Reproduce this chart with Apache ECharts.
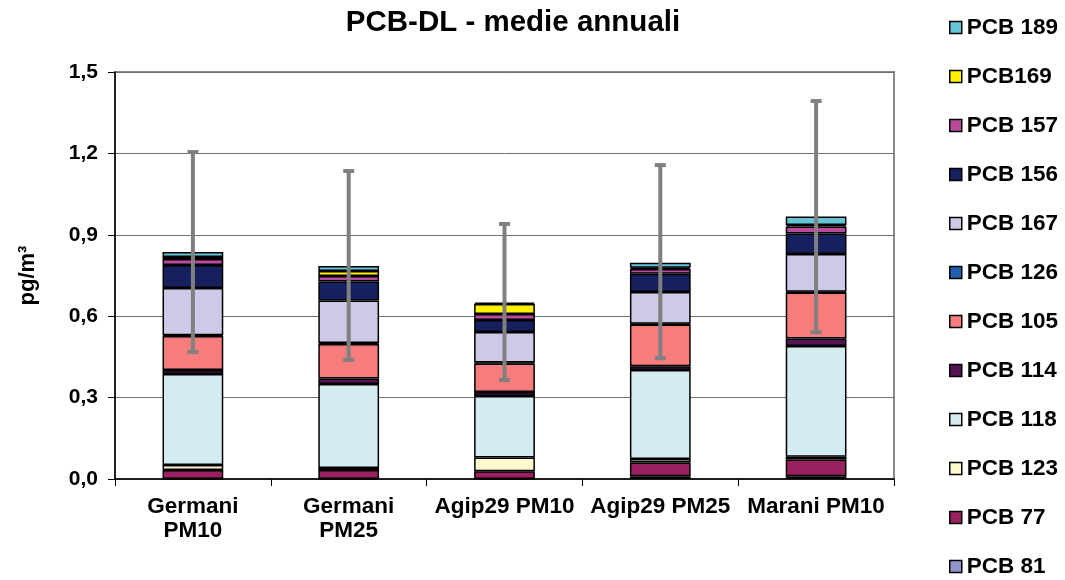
<!DOCTYPE html>
<html>
<head>
<meta charset="utf-8">
<script src="https://cdn.jsdelivr.net/npm/echarts@6/dist/echarts.min.js"></script>
<style>
html,body{margin:0;padding:0;background:#fff;}
#c{width:1065px;height:580px;}
</style>
</head>
<body>
<div id="c"></div>
<script>
// ---- data ----
const categories = ['Germani\nPM10', 'Germani\nPM25', 'Agip29 PM10', 'Agip29 PM25', 'Marani PM10'];
// stacking order bottom -> top
const seriesNames = ['PCB 81', 'PCB 77', 'PCB 123', 'PCB 118', 'PCB 114', 'PCB 105', 'PCB 126', 'PCB 167', 'PCB 156', 'PCB 157', 'PCB169', 'PCB 189'];
const pcb81  = [0.000, 0.000, 0.000, 0.010, 0.010];
const pcb77  = [0.033, 0.033, 0.029, 0.051, 0.062];
const pcb123 = [0.019, 0.008, 0.050, 0.013, 0.010];
const pcb118 = [0.335, 0.309, 0.227, 0.328, 0.408];
const pcb114 = [0.015, 0.020, 0.015, 0.014, 0.028];
const pcb105 = [0.125, 0.128, 0.105, 0.153, 0.169];
const pcb126 = [0.003, 0.003, 0.003, 0.003, 0.003];
const pcb167 = [0.174, 0.157, 0.113, 0.117, 0.139];
const pcb156 = [0.085, 0.070, 0.044, 0.067, 0.076];
const pcb157 = [0.022, 0.020, 0.022, 0.018, 0.026];
const pcb169 = [0.007, 0.019, 0.037, 0.005, 0.005];
const pcb189 = [0.019, 0.018, 0.005, 0.018, 0.031];
const errLow  = [0.468, 0.439, 0.365, 0.445, 0.541];
const errHigh = [1.205, 1.135, 0.940, 1.157, 1.393];
const yTicks = [0, 0.3, 0.6, 0.9, 1.2, 1.5];

const seriesValues = [pcb81, pcb77, pcb123, pcb118, pcb114, pcb105, pcb126, pcb167, pcb156, pcb157, pcb169, pcb189];
const colors = ['#9494CC', '#99215F', '#FFFACD', '#D4EBF2', '#541455', '#F77C7C', '#1F5FAE', '#CCCAE6', '#16205E', '#BB4A9E', '#FFF200', '#66C6D8'];

const FONT = 'Liberation Sans, Arial, sans-serif';

const barSeries = seriesNames.map((name, i) => ({
  name: name,
  type: 'bar',
  stack: 'pcb',
  barWidth: '39%',
  data: seriesValues[i],
  itemStyle: { color: colors[i], borderColor: '#000', borderWidth: 1.5 },
  emphasis: { disabled: true }
}));

const errData = categories.map((c, i) => [i, errLow[i], errHigh[i]]);

const errSeries = {
  name: 'err',
  type: 'custom',
  z: 10,
  data: errData,
  renderItem: function (params, api) {
    const x = api.value(0);
    const lo = api.coord([x, api.value(1)]);
    const hi = api.coord([x, api.value(2)]);
    const cap = 5.5;
    const style = { stroke: '#808080', lineWidth: 4, fill: null };
    return {
      type: 'group',
      children: [
        { type: 'line', shape: { x1: lo[0], y1: lo[1], x2: hi[0], y2: hi[1] }, style: style },
        { type: 'line', shape: { x1: lo[0] - cap, y1: lo[1], x2: lo[0] + cap, y2: lo[1] }, style: style },
        { type: 'line', shape: { x1: hi[0] - cap, y1: hi[1], x2: hi[0] + cap, y2: hi[1] }, style: style }
      ]
    };
  }
};

// one legend component per entry, stacked top (PCB 189) to bottom (PCB 81)
const legendOrder = seriesNames.slice().reverse();
const legends = legendOrder.map((name, i) => ({
  orient: 'vertical',
  left: 949,
  top: 16 + i * 49,
  padding: 0,
  itemWidth: 12, itemHeight: 12,
  icon: 'rect',
  selectedMode: false,
  data: [name],
  itemStyle: { borderColor: '#000', borderWidth: 1.5 },
  textStyle: { fontFamily: FONT, fontSize: 22.5, fontWeight: 'bold', color: '#000' }
}));

const chart = echarts.init(document.getElementById('c'), null, { renderer: 'canvas' });
chart.setOption({
  animation: false,
  backgroundColor: '#fff',
  title: {
    text: 'PCB-DL - medie annuali',
    left: 513, top: 8, textAlign: 'center', padding: 0,
    textStyle: { fontFamily: FONT, fontSize: 29.5, fontWeight: 'bold', color: '#000' }
  },
  legend: legends,
  grid: {
    left: 115, right: 171, top: 72, bottom: 101,
    show: true, borderColor: '#8a8a8a', borderWidth: 2, backgroundColor: '#fff'
  },
  xAxis: {
    type: 'category',
    data: categories,
    axisLine: { lineStyle: { color: '#000', width: 1.5 } },
    axisTick: { show: true, length: 7, lineStyle: { color: '#000' } },
    axisLabel: { fontFamily: FONT, fontSize: 22.5, fontWeight: 'bold', color: '#000', margin: 16, lineHeight: 24, interval: 0 }
  },
  yAxis: {
    type: 'value',
    min: yTicks[0], max: yTicks[yTicks.length - 1], interval: 0.3,
    name: 'pg/m³',
    nameLocation: 'middle',
    nameGap: 76,
    nameRotate: 90,
    nameTextStyle: { fontFamily: FONT, fontSize: 22, fontWeight: 'bold', color: '#000' },
    axisLine: { show: true, lineStyle: { color: '#000', width: 1.5 } },
    axisTick: { show: true, length: 7, lineStyle: { color: '#000' } },
    splitLine: { show: true, lineStyle: { color: '#707070', width: 1 } },
    axisLabel: {
      fontFamily: FONT, fontSize: 21, fontWeight: 'bold', color: '#000', margin: 17,
      formatter: v => v.toFixed(1).replace('.', ',')
    }
  },
  series: barSeries.concat([errSeries])
});
</script>
</body>
</html>
